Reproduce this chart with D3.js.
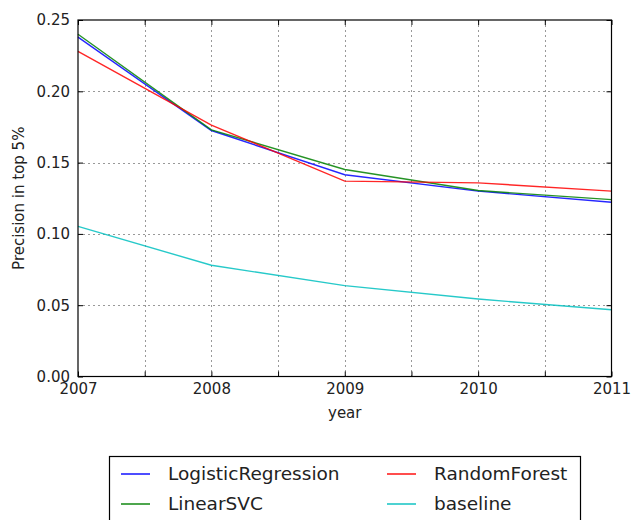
<!DOCTYPE html>
<html><head><meta charset="utf-8">
<script src="https://cdn.jsdelivr.net/npm/d3@7"></script>
<style>body{margin:0;background:#fff}svg{display:block}text{font-family:"DejaVu Sans",sans-serif;fill:#222}</style>
</head><body><svg id="c" width="632" height="520"></svg>
<script>
const years = [2007, 2008, 2009, 2010, 2011];
const logisticRegression = [0.238, 0.1725, 0.1415, 0.1300, 0.1222];
const linearSVC = [0.240, 0.1730, 0.1452, 0.1304, 0.1240];
const randomForest = [0.228, 0.1763, 0.1370, 0.1358, 0.1300];
const baseline = [0.1053, 0.0780, 0.0637, 0.0543, 0.0468];
const seriesNames = ["LogisticRegression", "LinearSVC", "RandomForest", "baseline"];
const seriesColors = ["#0000ff", "#008000", "#ff0000", "#00bfbf"];
const xTicks = [2007, 2007.5, 2008, 2008.5, 2009, 2009.5, 2010, 2010.5, 2011];
const yTicks = [0, 0.05, 0.10, 0.15, 0.20, 0.25];

const series = [logisticRegression, linearSVC, randomForest, baseline];
const svg = d3.select("#c");
const L = 78, R = 611.5, T = 20, B = 376.5;
const x = d3.scaleLinear().domain([2007, 2011]).range([L, R]);
const y = d3.scaleLinear().domain([0, 0.25]).range([B, T]);

// grid
const g = svg.append("g");
g.selectAll(".gx").data(xTicks.slice(1, -1)).join("line")
  .attr("x1", d => Math.round(x(d)) + 0.5).attr("x2", d => Math.round(x(d)) + 0.5)
  .attr("y1", T).attr("y2", B)
  .attr("stroke", "#999").attr("stroke-width", 1).attr("stroke-dasharray", "2,3");
g.selectAll(".gy").data(yTicks.slice(1, -1)).join("line")
  .attr("y1", d => Math.round(y(d)) + 0.5).attr("y2", d => Math.round(y(d)) + 0.5)
  .attr("x1", L).attr("x2", R)
  .attr("stroke", "#999").attr("stroke-width", 1).attr("stroke-dasharray", "2,3");

// lines
const line = d3.line().x((d, i) => x(years[i])).y(d => y(d));
series.forEach((s, i) => {
  svg.append("path").datum(s).attr("d", line)
    .attr("fill", "none").attr("stroke", seriesColors[i]).attr("stroke-width", 1.4).attr("stroke-opacity", 0.85);
});

// axes
const fmtX = d => Number.isInteger(d) ? String(d) : "";
const xb = svg.append("g").attr("transform", `translate(0,${B})`)
  .call(d3.axisBottom(x).tickValues(xTicks).tickFormat(fmtX).tickSizeInner(-5).tickSizeOuter(0).tickPadding(8));
const xt = svg.append("g").attr("transform", `translate(0,${T})`)
  .call(d3.axisTop(x).tickValues(xTicks).tickFormat("").tickSizeInner(-5).tickSizeOuter(0));
const yl = svg.append("g").attr("transform", `translate(${L},0)`)
  .call(d3.axisLeft(y).tickValues(yTicks).tickFormat(d3.format(".2f")).tickSizeInner(-5).tickSizeOuter(0).tickPadding(8));
const yr = svg.append("g").attr("transform", `translate(${R},0)`)
  .call(d3.axisRight(y).tickValues(yTicks).tickFormat("").tickSizeInner(-5).tickSizeOuter(0));
[xb, xt, yl, yr].forEach(a => {
  a.select(".domain").remove();
  a.selectAll("line").attr("stroke", "#000");
  a.selectAll("text").attr("font-size", 15).attr("fill", "#222").style("font-family", "DejaVu Sans");
});
xb.selectAll("text").attr("dy", "0.71em").attr("y", 7);
svg.append("rect").attr("x", L).attr("y", T).attr("width", R - L).attr("height", B - T)
  .attr("fill", "none").attr("stroke", "#000").attr("stroke-width", 1.2);

// axis labels
svg.append("text").attr("x", (L + R) / 2).attr("y", 418).attr("text-anchor", "middle")
  .attr("font-size", 15).text("year");
svg.append("text").attr("transform", `translate(24,${(T + B) / 2}) rotate(-90)`).attr("text-anchor", "middle")
  .attr("font-size", 15).text("Precision in top 5%");

// legend
const lg = svg.append("g");
lg.append("rect").attr("x", 109.5).attr("y", 456.5).attr("width", 471).attr("height", 80)
  .attr("fill", "#fff").attr("stroke", "#000").attr("stroke-width", 1.2);
const lpos = [[121, 474], [121, 504], [387, 474], [387, 504]];
seriesNames.forEach((n, i) => {
  const [lx, ly] = lpos[i];
  lg.append("line").attr("x1", lx).attr("x2", lx + 29).attr("y1", ly).attr("y2", ly)
    .attr("stroke", seriesColors[i]).attr("stroke-width", 1.4);
  lg.append("text").attr("x", lx + 47).attr("y", ly).attr("dy", "0.35em").attr("font-size", 18.5).text(n);
});
</script></body></html>
